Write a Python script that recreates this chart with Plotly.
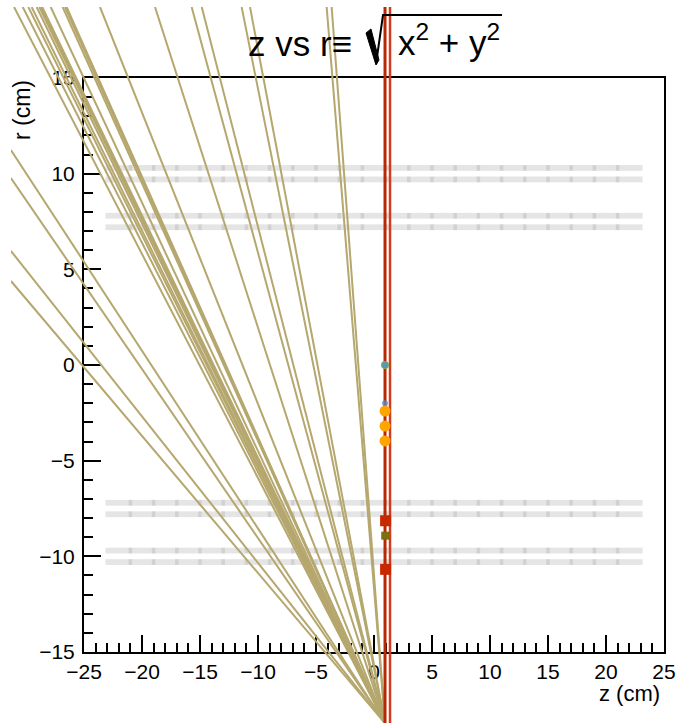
import plotly.graph_objects as go

# ---------------- data ----------------
# track vertex (common convergence point) and far endpoints (z, r in cm)
track_vertex_z = 0.95
track_vertex_r = -18.72
track_end_z = [-31.03, -30.28, -29.80, -29.51, -29.08, -28.85, -28.73, -28.60,
               -27.87, -26.84, -26.64, -26.50, -23.62, -18.88, -15.72, -14.85,
               -11.41, -10.69, -4.08, -3.65,
               -31.30, -31.30, -31.30, -31.30]
track_end_r = [18.71, 18.71, 18.71, 18.71, 18.71, 18.71, 18.71, 18.71,
               18.71, 18.71, 18.71, 18.71, 18.71, 18.71, 18.71, 18.71,
               18.71, 18.71, 18.71, 18.71,
               11.24, 9.77, 5.96, 4.39]

# beam lines (z in cm)
beam_line_z = [0.95, 1.38]

# detector module strips
module_z = [-22, -20, -18, -16, -14, -12, -10, -8, -6, -4, -2, 0,
            2, 4, 6, 8, 10, 12, 14, 16, 18, 20, 22]
module_r = [10.3, 9.7, 7.8, 7.2, -7.2, -7.8, -9.7, -10.3]
module_half_len = 1.15
module_half_thick = 0.15

# hits / vertices
green_z = [0.95]; green_r = [0.0]
blue_z = [0.95, 0.95]; blue_r = [0.0, -2.0]
orange_z = [0.95, 0.95, 0.95]; orange_r = [-2.41, -3.19, -3.97]
red_sq_z = [1.0, 1.0]; red_sq_r = [-8.14, -10.68]
olive_sq_z = [0.97]; olive_sq_r = [-8.92]

x_range = [-25, 25]
y_range = [-15, 15]
x_ticks = [-25, -20, -15, -10, -5, 0, 5, 10, 15, 20, 25]
y_ticks = [-15, -10, -5, 0, 5, 10, 15]

# ---------------- layout geometry ----------------
W, H = 679, 725
FL, FR, FT, FB = 84, 664, 78, 652      # frame (pixels)
CL, CR, CT, CB = 11, 668, 7, 723       # drawing clip region (pixels)
ppx = (FR - FL) / (x_range[1] - x_range[0])
ppy = (FB - FT) / (y_range[1] - y_range[0])
x2_range = [x_range[0] - (FL - CL) / ppx, x_range[1] + (CR - FR) / ppx]
y2_range = [y_range[0] - (CB - FB) / ppy, y_range[1] + (FT - CT) / ppy]

FONT = "Liberation Sans, Arial, Helvetica, sans-serif"
TAN = "rgb(181,167,110)"

fig = go.Figure()

# tracks
tx, ty = [], []
for z, r in zip(track_end_z, track_end_r):
    tx += [track_vertex_z, z, None]
    ty += [track_vertex_r, r, None]
fig.add_trace(go.Scatter(x=tx, y=ty, mode="lines", line=dict(color=TAN, width=2),
                         xaxis="x2", yaxis="y2", hoverinfo="skip", showlegend=False))

# beam lines
fig.add_trace(go.Scatter(x=[beam_line_z[0], beam_line_z[0]], y=y2_range, mode="lines",
                         line=dict(color="rgb(185,40,5)", width=3),
                         xaxis="x2", yaxis="y2", showlegend=False))
fig.add_trace(go.Scatter(x=[beam_line_z[1], beam_line_z[1]], y=y2_range, mode="lines",
                         line=dict(color="rgb(210,60,30)", width=2.5),
                         xaxis="x2", yaxis="y2", showlegend=False))

# markers
fig.add_trace(go.Scatter(x=green_z, y=green_r, mode="markers",
                         marker=dict(color="rgb(120,180,80)", size=8, line=dict(width=0)),
                         xaxis="x2", yaxis="y2", showlegend=False))
fig.add_trace(go.Scatter(x=blue_z, y=blue_r, mode="markers",
                         marker=dict(color="rgba(80,140,215,0.75)", size=6, line=dict(width=0)),
                         xaxis="x2", yaxis="y2", showlegend=False))
fig.add_trace(go.Scatter(x=orange_z, y=orange_r, mode="markers",
                         marker=dict(color="rgb(255,165,0)", size=11, line=dict(width=0)),
                         xaxis="x2", yaxis="y2", showlegend=False))
fig.add_trace(go.Scatter(x=red_sq_z, y=red_sq_r, mode="markers",
                         marker=dict(color="rgb(200,40,0)", size=11, symbol="square", line=dict(width=0)),
                         xaxis="x2", yaxis="y2", showlegend=False))
fig.add_trace(go.Scatter(x=olive_sq_z, y=olive_sq_r, mode="markers",
                         marker=dict(color="rgb(125,110,15)", size=8, symbol="square", line=dict(width=0)),
                         xaxis="x2", yaxis="y2", showlegend=False))

# module strips
shapes = []
for r in module_r:
    for z in module_z:
        shapes.append(dict(type="rect", xref="x", yref="y",
                           x0=z - module_half_len, x1=z + module_half_len,
                           y0=r - module_half_thick, y1=r + module_half_thick,
                           fillcolor="rgba(150,150,150,0.25)", line=dict(width=0),
                           layer="below"))


def P(x, y):
    return f"{x / W:.5f},{1 - y / H:.5f}"


# radical sign of the title
shapes.append(dict(type="path", xref="paper", yref="paper",
                   path=f"M {P(366,33)} L {P(371,29)} L {P(379,60)} L {P(376,65)} Z",
                   fillcolor="black", line=dict(color="black", width=1)))
shapes.append(dict(type="path", xref="paper", yref="paper",
                   path=f"M {P(376,64)} L {P(383,15)} L {P(502,15)}",
                   line=dict(color="black", width=2)))

axis_common = dict(showline=True, linecolor="black", linewidth=2, mirror=True,
                   ticks="inside", ticklen=17, tickwidth=1.5, tickcolor="black",
                   showgrid=False, zeroline=False, automargin=False,
                   tickfont=dict(family=FONT, size=21, color="black"),
                   minor=dict(dtick=1, ticks="inside", ticklen=9, tickwidth=1.5,
                              tickcolor="black", showgrid=False))

fig.update_layout(
    width=W, height=H,
    margin=dict(l=0, r=0, t=0, b=0, pad=0),
    paper_bgcolor="white", plot_bgcolor="rgba(0,0,0,0)",
    showlegend=False,
    xaxis=dict(domain=[FL / W, FR / W], range=x_range, anchor="y",
               tickvals=x_ticks, **axis_common),
    yaxis=dict(domain=[1 - FB / H, 1 - FT / H], range=y_range, anchor="x",
               tickvals=y_ticks, ticklabelstandoff=3, **axis_common),
    xaxis2=dict(domain=[CL / W, CR / W], range=x2_range, anchor="y2", visible=False),
    yaxis2=dict(domain=[1 - CB / H, 1 - CT / H], range=y2_range, anchor="x2", visible=False),
    shapes=shapes,
    annotations=[
        dict(text="z vs r≡", xref="paper", yref="paper", x=354 / W, y=1 - 44 / H,
             xanchor="right", yanchor="middle", showarrow=False,
             font=dict(family=FONT, size=35, color="black")),
        dict(text="x<sup>2</sup> + y<sup>2</sup>", xref="paper", yref="paper",
             x=396 / W, y=1 - 40 / H, xanchor="left", yanchor="middle", showarrow=False,
             font=dict(family=FONT, size=35, color="black")),
        dict(text="r (cm)", xref="paper", yref="paper", x=22 / W, y=1 - 78 / H,
             xanchor="center", yanchor="top", textangle=-90, showarrow=False,
             font=dict(family=FONT, size=23, color="black")),
        dict(text="z (cm)", xref="paper", yref="paper", x=662 / W, y=1 - 693 / H,
             xanchor="right", yanchor="middle", showarrow=False,
             font=dict(family=FONT, size=22, color="black")),
    ],
)

fig.write_html("out.html",
               config={"displayModeBar": False},
               post_script="document.body.style.margin='0';"
                           "document.documentElement.style.overflow='hidden';")
